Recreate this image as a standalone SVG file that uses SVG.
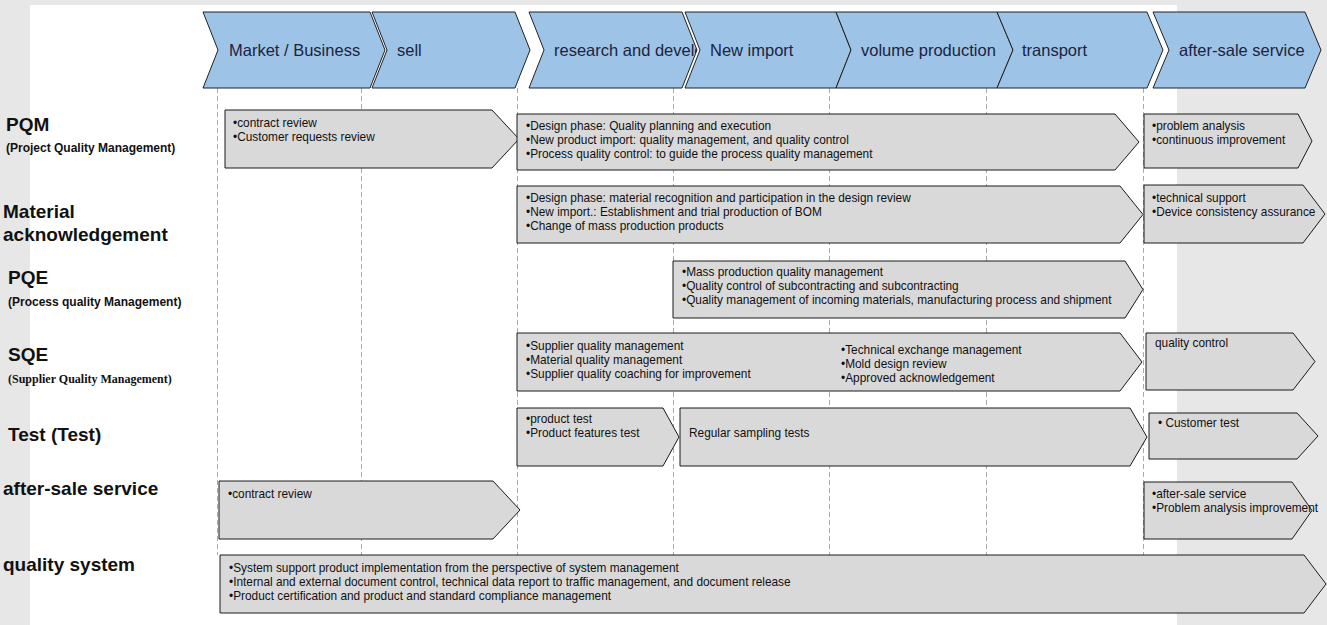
<svg xmlns="http://www.w3.org/2000/svg" width="1327" height="625" viewBox="0 0 1327 625">
<style>
.hdr{fill:#9dc3e6;stroke:#222;stroke-width:1}
.hdt{font-family:"Liberation Sans",Arial,sans-serif;font-size:16.5px;fill:#1c2340}
.box{fill:#d9d9d9;stroke:#1a1a1a;stroke-width:1}
.bt{font-family:"Liberation Sans",Arial,sans-serif;font-size:11.85px;fill:#111}
.lb{font-family:"Liberation Sans",Arial,sans-serif;font-size:19px;font-weight:bold;fill:#111}
.ls{font-family:"Liberation Sans",Arial,sans-serif;font-size:12px;font-weight:bold;fill:#111}
.lt{font-family:"Liberation Serif","Times New Roman",serif;font-size:12px;font-weight:bold;fill:#111}
.guide{stroke:#aaa;stroke-width:1;stroke-dasharray:5,3;fill:none}
</style>
<defs>
<clipPath id="clipRD"><polygon points="529,12 682,12 697,50 682,88 529,88 544,50"/></clipPath>
</defs>
<rect x="0" y="0" width="1327" height="625" fill="#e7e7e7"/>
<rect x="30" y="5" width="1147" height="620" fill="#ffffff"/>

<g id="guides">
<line class="guide" x1="217.5" y1="88" x2="217.5" y2="555"/>
<line class="guide" x1="361.5" y1="88" x2="361.5" y2="555"/>
<line class="guide" x1="517.5" y1="88" x2="517.5" y2="555"/>
<line class="guide" x1="673.5" y1="88" x2="673.5" y2="555"/>
<line class="guide" x1="829.5" y1="88" x2="829.5" y2="555"/>
<line class="guide" x1="986.5" y1="88" x2="986.5" y2="555"/>
<line class="guide" x1="1143.5" y1="88" x2="1143.5" y2="555"/>
</g>

<g id="header">
<g id="h-market"><polygon class="hdr" points="203,12 370,12 385,50 370,88 203,88 218,50"/><text class="hdt" x="229" y="56">Market / Business</text></g>
<g id="h-sell"><polygon class="hdr" points="372,12 515,12 530,50 515,88 372,88 387,50"/><text class="hdt" x="397" y="56">sell</text></g>
<g id="h-rd"><polygon class="hdr" points="529,12 682,12 697,50 682,88 529,88 544,50"/><text class="hdt" x="554" y="56" clip-path="url(#clipRD)">research and develo</text></g>
<g id="h-newimport"><polygon class="hdr" points="685,12 836,12 851,50 836,88 685,88 700,50"/><text class="hdt" x="710" y="56">New import</text></g>
<g id="h-volume"><polygon class="hdr" points="836,12 997,12 1013,50 997,88 836,88 851,50"/><text class="hdt" x="861" y="56">volume production</text></g>
<g id="h-transport"><polygon class="hdr" points="997,12 1147,12 1163,50 1147,88 997,88 1013,50"/><text class="hdt" x="1022" y="56">transport</text></g>
<g id="h-aftersale"><polygon class="hdr" points="1153,12 1305,12 1321,50 1305,88 1153,88 1169,50"/><text class="hdt" x="1179" y="56">after-sale service</text></g>
</g>

<g id="labels">
<g id="l-pqm"><text class="lb" x="6" y="131">PQM</text><text class="ls" x="6" y="152">(Project Quality Management)</text></g>
<g id="l-material"><text class="lb" x="3" y="218">Material</text><text class="lb" x="3" y="241">acknowledgement</text></g>
<g id="l-pqe"><text class="lb" x="8" y="284">PQE</text><text class="ls" x="8" y="306">(Process quality Management)</text></g>
<g id="l-sqe"><text class="lb" x="8" y="361">SQE</text><text class="lt" x="8" y="383">(Supplier Quality Management)</text></g>
<g id="l-test"><text class="lb" x="8" y="441">Test (Test)</text></g>
<g id="l-aftersale"><text class="lb" x="3" y="495">after-sale service</text></g>
<g id="l-qs"><text class="lb" x="3" y="571">quality system</text></g>
</g>

<g id="n-pqm-1"><polygon class="box" points="225,110 492,110 519,139 492,168 225,168"/>
<text class="bt" x="233" y="127">•contract review</text><text class="bt" x="233" y="141">•Customer requests review</text></g>
<g id="n-pqm-2"><polygon class="box" points="517,114 1115,114 1139,142 1115,170 517,170"/>
<text class="bt" x="526" y="130">•Design phase: Quality planning and execution</text>
<text class="bt" x="526" y="144">•New product import: quality management, and quality control</text>
<text class="bt" x="526" y="158">•Process quality control: to guide the process quality management</text></g>
<g id="n-pqm-3"><polygon class="box" points="1144,114 1298,114 1312,141 1298,168 1144,168"/>
<text class="bt" x="1152" y="130">•problem analysis</text><text class="bt" x="1152" y="144">•continuous improvement</text></g>

<g id="n-mat-1"><polygon class="box" points="517,186 1120,186 1143,214.5 1120,243 517,243"/>
<text class="bt" x="526" y="202">•Design phase: material recognition and participation in the design review</text>
<text class="bt" x="526" y="216">•New import.: Establishment and trial production of BOM</text>
<text class="bt" x="526" y="230">•Change of mass production products</text></g>
<g id="n-mat-2"><polygon class="box" points="1144,185 1303,185 1325,214 1303,243 1144,243"/>
<text class="bt" x="1152" y="202">•technical support</text><text class="bt" x="1152" y="216">•Device consistency assurance</text></g>

<g id="n-pqe-1"><polygon class="box" points="673,261 1125,261 1143,289.5 1125,318 673,318"/>
<text class="bt" x="682" y="276">•Mass production quality management</text>
<text class="bt" x="682" y="290">•Quality control of subcontracting and subcontracting</text>
<text class="bt" x="682" y="304">•Quality management of incoming materials, manufacturing process and shipment</text></g>

<g id="n-sqe-1"><polygon class="box" points="517,333 1120,333 1142,362 1120,391 517,391"/>
<text class="bt" x="526" y="350">•Supplier quality management</text>
<text class="bt" x="526" y="364">•Material quality management</text>
<text class="bt" x="526" y="378">•Supplier quality coaching for improvement</text>
<text class="bt" x="841" y="354">•Technical exchange management</text>
<text class="bt" x="841" y="368">•Mold design review</text>
<text class="bt" x="841" y="382">•Approved acknowledgement</text></g>
<g id="n-sqe-2"><polygon class="box" points="1146,333 1293,333 1315,361.5 1293,390 1146,390"/>
<text class="bt" x="1155" y="347">quality control</text></g>

<g id="n-test-1"><polygon class="box" points="517,408 663,408 679,437 663,466 517,466"/>
<text class="bt" x="526" y="423">•product test</text><text class="bt" x="526" y="437">•Product features test</text></g>
<g id="n-test-2"><polygon class="box" points="680,408 1130,408 1147,437 1130,466 680,466"/>
<text class="bt" x="689" y="437">Regular sampling tests</text></g>
<g id="n-test-3"><polygon class="box" points="1149,413 1297,413 1318,436 1297,459 1149,459"/>
<text class="bt" x="1158" y="427">• Customer test</text></g>

<g id="n-as-1"><polygon class="box" points="219,481 493,481 520,510 493,539 219,539"/>
<text class="bt" x="228" y="498">•contract review</text></g>
<g id="n-as-2"><polygon class="box" points="1144,482 1292,482 1312,510.5 1292,539 1144,539"/>
<text class="bt" x="1152" y="498">•after-sale service</text><text class="bt" x="1152" y="512">•Problem analysis improvement</text></g>

<g id="n-qs-1"><polygon class="box" points="220,555 1304,555 1326,584 1304,613 220,613"/>
<text class="bt" x="229" y="572">•System support product implementation from the perspective of system management</text>
<text class="bt" x="229" y="586">•Internal and external document control, technical data report to traffic management, and document release</text>
<text class="bt" x="229" y="600">•Product certification and product and standard compliance management</text></g>
</svg>
